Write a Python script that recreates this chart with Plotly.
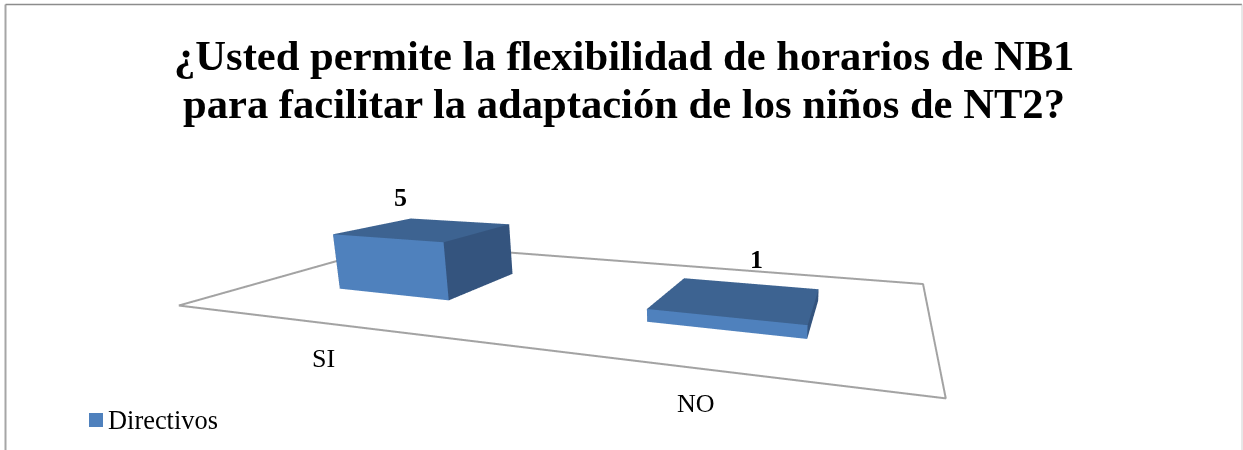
import plotly.graph_objects as go

categories = ["SI", "NO"]
values = [5, 1]
series_name = "Directivos"
title_lines = ["¿Usted permite la flexibilidad de horarios de NB1",
               "para facilitar la adaptación de los niños de NT2?"]

W, H = 1243, 450
FRONT, TOP, SIDE = "#4F81BD", "#3D6391", "#34547E"
FLOOR = "#A3A3A3"

# Hidden axis extents; padding keeps the floor outline inside the clip bounds
X_MAX, Y_MAX, Z_MAX = 2.0, 1.0, 14.921
PAD_X, PAD_Y, PAD_Z = 0.05, 0.08, 0.2
BOX_X, BOX_Y, BOX_Z = 2.0, 0.74754, 0.5
DOM_L = 170

# Floor outline on the hidden category/depth axes
floor_x = [0.0486, 1.9953, 2.024, -0.021, 0.0486]
floor_y = [-0.0439, 0.0028, 1.018, 1.025, -0.0439]

# Bar footprint on the hidden axes
bar_x = [0.52672, 1.52648]
BAR_W = 0.39755
Y0, Y1 = 0.28409, 0.67279

xs, ys, zs, I, J, K, fc = [], [], [], [], [], [], []
faces = [((0, 1, 5), FRONT), ((0, 5, 4), FRONT), ((4, 5, 6), TOP), ((4, 6, 7), TOP),
         ((1, 2, 6), SIDE), ((1, 6, 5), SIDE), ((0, 3, 7), SIDE), ((0, 7, 4), SIDE),
         ((3, 2, 6), SIDE), ((3, 6, 7), SIDE)]
for cx, v in zip(bar_x, values):
    x0, x1 = cx - BAR_W / 2, cx + BAR_W / 2
    b = len(xs)
    for z in (0, v):
        for a, q in ((x0, Y0), (x1, Y0), (x1, Y1), (x0, Y1)):
            xs.append(a); ys.append(q); zs.append(z)
    for (i, j, k), col in faces:
        I.append(b + i); J.append(b + j); K.append(b + k); fc.append(col)

fig = go.Figure()
fig.add_trace(go.Mesh3d(x=xs, y=ys, z=zs, i=I, j=J, k=K, facecolor=fc, flatshading=True,
                        lighting=dict(ambient=1, diffuse=0, specular=0, fresnel=0),
                        hoverinfo="skip", name=series_name))
fig.add_trace(go.Scatter3d(x=floor_x, y=floor_y, z=[0] * len(floor_x), mode="lines",
                           line=dict(color=FLOOR, width=4), hoverinfo="skip", showlegend=False))
off = dict(visible=False)
fig.update_layout(
    width=W, height=H, margin=dict(l=0, r=0, t=0, b=0), paper_bgcolor="white", showlegend=False,
    scene=dict(domain=dict(x=[DOM_L / W, 1], y=[0, 1]),
               xaxis=dict(range=[-PAD_X, X_MAX + PAD_X], **off),
               yaxis=dict(range=[-PAD_Y, Y_MAX + PAD_Y], **off),
               zaxis=dict(range=[-PAD_Z, Z_MAX + PAD_Z], **off),
               aspectmode="manual",
               aspectratio=dict(x=BOX_X * (1 + 2 * PAD_X / X_MAX),
                                y=BOX_Y * (1 + 2 * PAD_Y / Y_MAX),
                                z=BOX_Z * (1 + 2 * PAD_Z / Z_MAX)),
               camera=dict(eye=dict(x=0.83659, y=-1.36568, z=0.23470),
                           center=dict(x=0.28242, y=0.52202, z=-0.12514),
                           up=dict(x=0, y=0, z=1))),
    font=dict(family="Liberation Serif", color="black"),
)

def label(x, y, text, size, bold=False, anchor="center"):
    fig.add_annotation(xref="paper", yref="paper", x=x / W, y=1 - y / H,
                       text=f"<b>{text}</b>" if bold else text,
                       showarrow=False, xanchor=anchor, yanchor="middle", font=dict(size=size))

label(624, 55, title_lines[0], 42.6, True)
label(624, 104, title_lines[1], 42.6, True)
label(400, 198, str(values[0]), 26, True)
label(757, 259, str(values[1]), 26, True)
label(323, 358, categories[0], 26)
label(696, 403, categories[1], 26)
label(106, 420, series_name, 26.4, anchor="left")

fig.add_shape(type="rect", xref="paper", yref="paper", x0=89 / W, x1=103 / W, y0=1 - 427 / H, y1=1 - 413 / H,
              fillcolor=FRONT, line_width=0)
for x0, y0, x1, y1, col, wd in [(5.5, 450, 5.5, 4.5, "#A6A6A6", 2),
                                (5.5, 4.5, 1242, 4.5, "#8C8C8C", 1.5),
                                (1242, 450, 1242, 4.5, "#D0D0D0", 1)]:
    fig.add_shape(type="line", xref="paper", yref="paper", x0=x0 / W, x1=x1 / W,
                  y0=1 - y0 / H, y1=1 - y1 / H, line=dict(color=col, width=wd))

fig.write_html("out.html", config={"displayModeBar": False},
               post_script="document.body.style.margin='0';document.body.style.overflow='hidden';")
